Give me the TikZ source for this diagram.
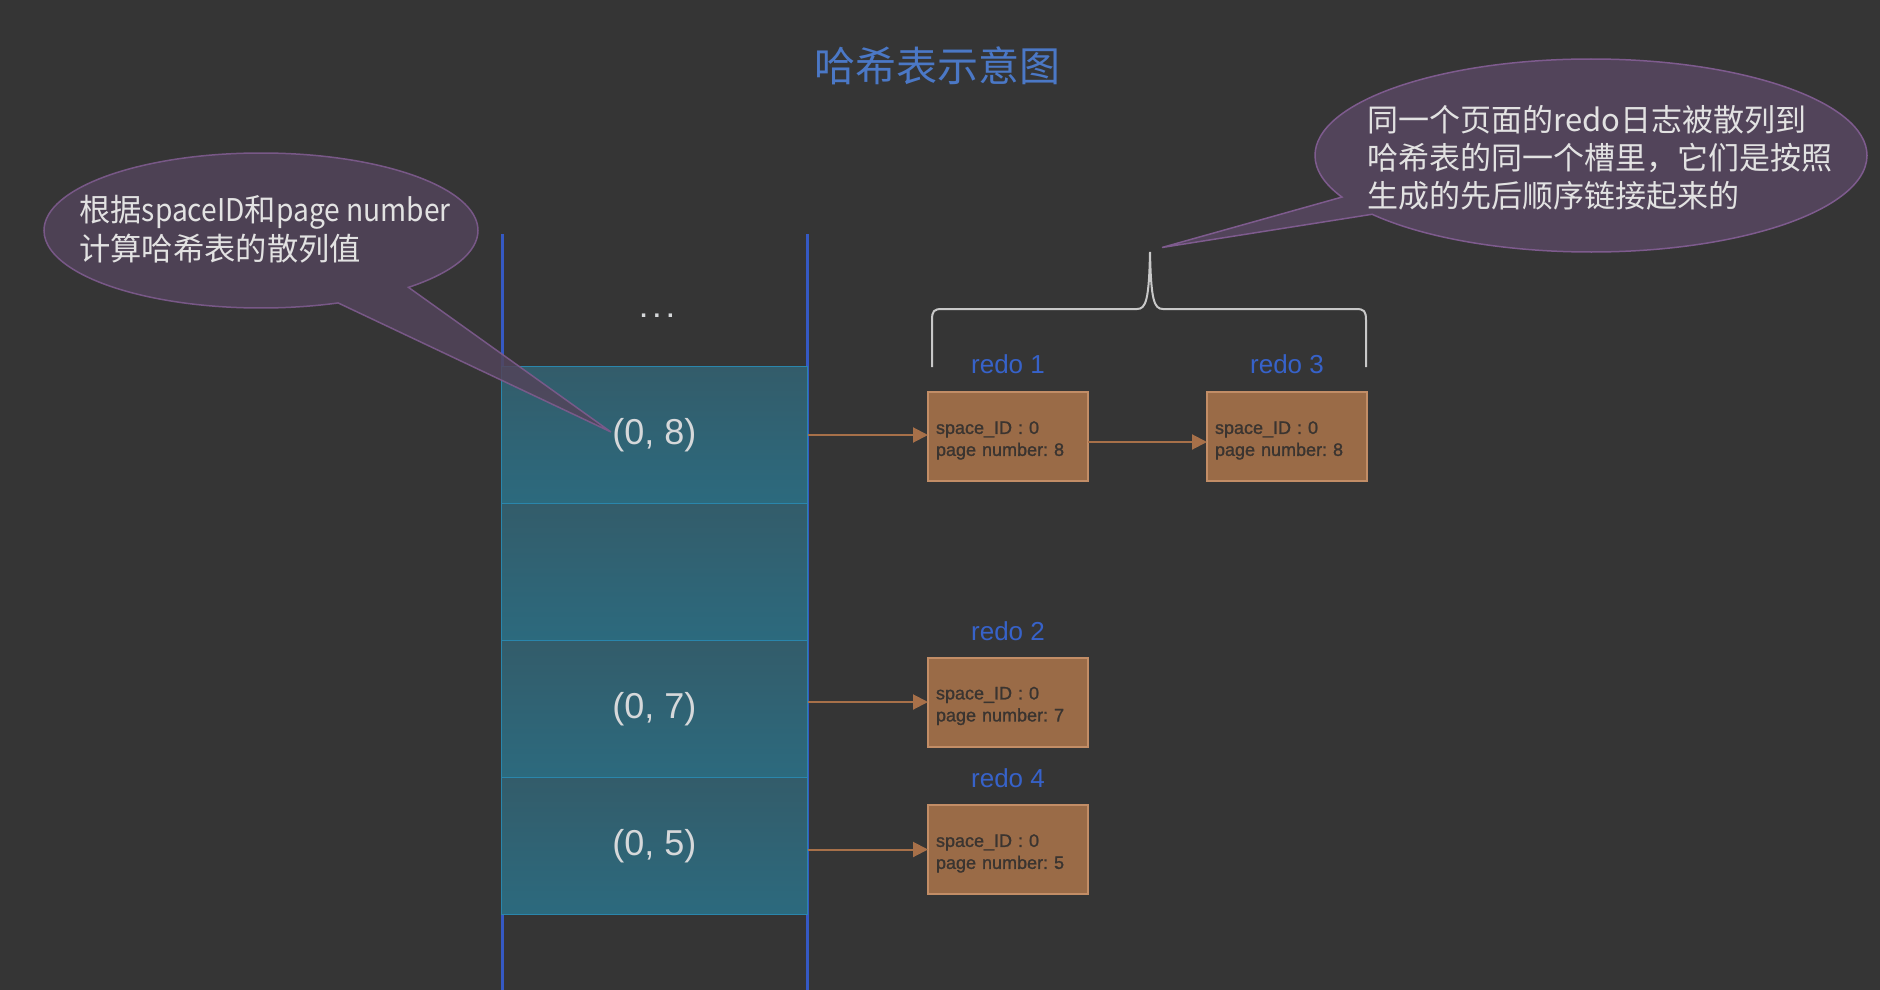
\documentclass[tikz,border=0pt]{standalone}
\usepackage{fontspec}
\setmainfont{Liberation Sans}
\newfontfamily\cjk{Noto Sans CJK SC}
\newfontfamily\cjklat[FakeStretch=0.9]{Noto Sans CJK SC}
\newfontfamily\boxfont[FakeBold=1.3]{Liberation Sans}
\frenchspacing
\usetikzlibrary{shapes.callouts,arrows.meta}
\definecolor{bg}{HTML}{353535}
\definecolor{vline}{HTML}{3559C4}
\definecolor{cellborder}{HTML}{2A86AC}
\definecolor{celltop}{HTML}{335C6A}
\definecolor{cellbot}{HTML}{2C6A7E}
\definecolor{celltext}{HTML}{D6D8DA}
\definecolor{boxfill}{HTML}{9A6B47}
\definecolor{boxborder}{HTML}{C28D66}
\definecolor{boxtext}{HTML}{3A3430}
\definecolor{redoblue}{HTML}{3762C9}
\definecolor{titleblue}{HTML}{4B78C6}
\definecolor{arrowc}{HTML}{A77049}
\definecolor{bracec}{HTML}{C8C8C8}
\definecolor{bubblefill}{HTML}{52445A}
\definecolor{bubbleborder}{HTML}{7E5B8E}
\definecolor{bubbletextc}{HTML}{E2E2E2}
\begin{document}
\begin{tikzpicture}[x=1pt,y=1pt,
  vert/.style={draw=vline, line width=3pt},
  cell/.style={rectangle, draw=cellborder, line width=1.5pt, minimum width=306pt, minimum height=137pt, inner sep=0pt, outer sep=0pt, top color=celltop, bottom color=cellbot, text=celltext, font=\fontsize{36pt}{40pt}\selectfont},
  redobox/.style={rectangle, draw=boxborder, line width=2pt, fill=boxfill, text width=144pt, inner sep=8pt, minimum height=89pt, outer sep=0pt, align=left, text=boxtext, font=\boxfont\fontsize{18pt}{22pt}\selectfont},
  redolbl/.style={text=redoblue, font=\fontsize{26pt}{30pt}\selectfont, inner sep=0pt},
  link/.style={draw=arrowc, line width=2pt, -{Triangle[length=15pt,width=15pt]}},
  bubble/.style={ellipse callout, draw=bubbleborder, line width=1.5pt, fill=bubblefill, inner sep=0pt, outer sep=0pt},
  bubbletext/.style={text=bubbletextc, align=left, inner sep=0pt},
]
\fill[bg] (0,0) rectangle (1880,-990);
\useasboundingbox (0,0) rectangle (1880,-990);

% title
\node[text=titleblue, font=\cjk\fontsize{41pt}{45pt}\selectfont] (title) at (937,-66) {哈希表示意图};

% table side lines
\coordinate (lt) at (502,-234);
\coordinate (lb) at (502,-990);
\coordinate (rt) at (807,-234);
\coordinate (rb) at (807,-990);
\draw[vert] (lt) -- (lb);
\draw[vert] (rt) -- (rb);
\node[text=celltext, font=\fontsize{24pt}{28pt}\selectfont\bfseries] (dots) at (657,-316) {. . .};

% cells
\node[cell] (c1) at (654.5,-435) {(0, 8)};
\node[cell] (c2) at (654.5,-572) {};
\node[cell] (c3) at (654.5,-709) {(0, 7)};
\node[cell] (c4) at (654.5,-846) {(0, 5)};

% left bubble
\node[bubble, fill opacity=0.85, draw opacity=0.9, minimum width=434pt, minimum height=155pt,
      callout absolute pointer={(611,-432)}, callout pointer arc=22] (b1) at (261,-230.5) {};
\node[bubbletext, font=\cjk\fontsize{31.3pt}{39pt}\selectfont] (b1t) at (265,-229) {根据{\cjklat spaceID}和{\cjklat page number}\\计算哈希表的散列值};

% redo boxes
\node[redobox] (r1) at (1008,-436.5) {\rule{0pt}{20.5pt}space\_ID : 0\\page number: 8};
\node[redobox] (r3) at (1287,-436.5) {\rule{0pt}{20.5pt}space\_ID : 0\\page number: 8};
\node[redobox] (r2) at (1008,-702) {\rule{0pt}{20.5pt}space\_ID : 0\\page number: 7};
\node[redobox] (r4) at (1008,-849.5) {\rule{0pt}{20.5pt}space\_ID : 0\\page number: 5};

\node[redolbl] (l1) at (1008,-364) {redo 1};
\node[redolbl] (l3) at (1287,-364) {redo 3};
\node[redolbl] (l2) at (1008,-631) {redo 2};
\node[redolbl] (l4) at (1008,-778) {redo 4};

% arrows
\draw[link] (c1.east) -- (c1.east -| r1.west);
\draw[link] ([yshift=-5.5pt]r1.east) -- ([yshift=-5.5pt]r3.west);
\draw[link] (r2.west -| c3.east) -- (r2.west);
\draw[link] (r4.west -| c4.east) -- (r4.west);

% brace
\draw[draw=bracec, line width=2pt]
  (932,-367) -- (932,-320) .. controls (932,-311) and (934,-309) .. (942,-309)
  -- (1137,-309) .. controls (1146,-309) and (1149,-300) .. (1150,-252)
  .. controls (1151,-300) and (1154,-309) .. (1163,-309)
  -- (1356,-309) .. controls (1364,-309) and (1366,-311) .. (1366,-320) -- (1366,-367);

% right bubble
\node[bubble, minimum width=552pt, minimum height=193pt,
      callout absolute pointer={(1162,-247.5)}, callout pointer arc=12] (b2) at (1591,-155.5) {};
\node[bubbletext, font=\cjk\fontsize{31pt}{38pt}\selectfont] (b2t) at (1600,-158) {同一个页面的redo日志被散列到\\哈希表的同一个槽里，它们是按照\\生成的先后顺序链接起来的};
\end{tikzpicture}
\end{document}
